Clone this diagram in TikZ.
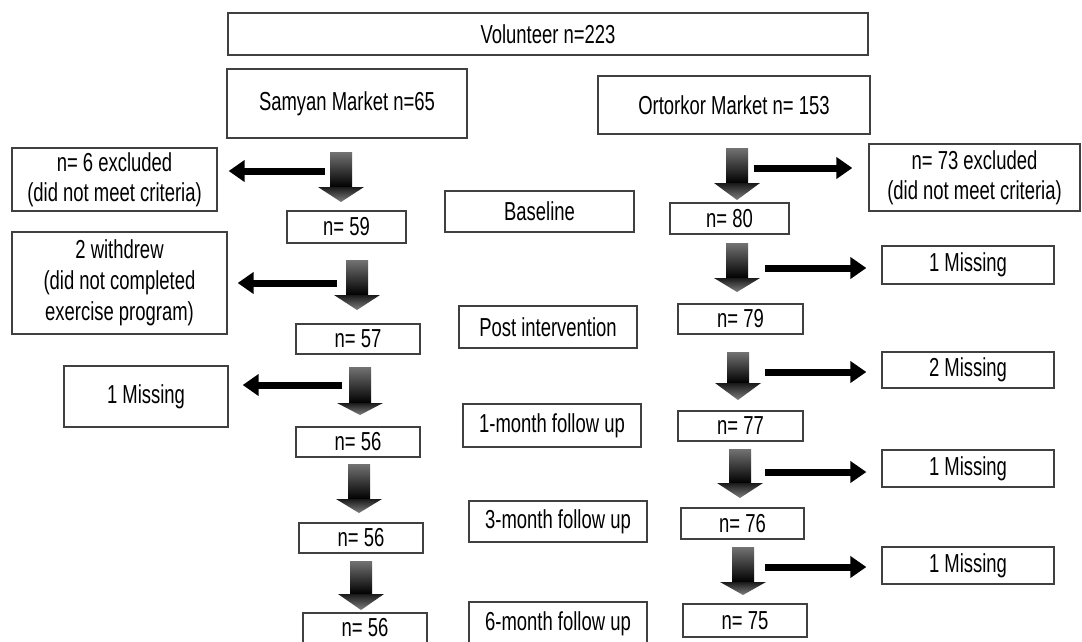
\documentclass[tikz,border=0pt]{standalone}
\usepackage{fontspec}
\setmainfont{Liberation Sans}[FakeStretch=0.71]
\usetikzlibrary{arrows.meta}

\tikzset{
  box/.style={draw=black!75, line width=1.3pt, inner sep=0pt,
    font=\fontsize{26}{31}\selectfont},
  side/.style={line width=7pt, -{Triangle[length=16pt, width=21pt]}},
}

% shaded down arrow: x centre, top, start of head, tip
\newcommand{\flowarrow}[4]{%
  \shade[top color=black!55, bottom color=black] (#1-11,#2) rectangle (#1+11,#3);
  \shade[top color=black!90, bottom color=black!50] (#1-23,#3) -- (#1+23,#3) -- (#1,#4) -- cycle;
}

\begin{document}
\begin{tikzpicture}[x=1pt, y=-1pt]
    \clip (0,0) rectangle (1082,641);
    \fill[white] (0,0) rectangle (1082,641);

    \node[box, minimum width=640pt, minimum height=42pt] (vol) at (548,34) {Volunteer n=223};
    \node[box, minimum width=240pt, minimum height=69pt] (sam) at (347,103.5) {Samyan Market n=65};
    \node[box, minimum width=272pt, minimum height=58pt] (ort) at (734,105) {Ortorkor Market n= 153};

    % middle column
    \node[box, minimum width=189pt, minimum height=41pt] (base) at (539.5,211.5) {Baseline};
    \node[box, minimum width=178pt, minimum height=42pt] (post) at (548,327) {Post intervention};
    \node[box, minimum width=178pt, minimum height=43pt] (m1) at (552,425.5) {1-month follow up};
    \node[box, minimum width=178pt, minimum height=41pt] (m3) at (558,521.5) {3-month follow up};
    \node[box, minimum width=178pt, minimum height=43pt] (m6) at (558,623.5) {6-month follow up};

    % Samyan
    \node[box, align=center, minimum width=205pt, minimum height=63pt] (sex) at (114.5,179.5) {n= 6 excluded\\[-1pt](did not meet criteria)};
    \node[box, align=center, minimum width=215pt, minimum height=102pt] (swd) at (119.5,283) {2 withdrew\\(did not completed\\exercise program)};
    \node[box, minimum width=164pt, minimum height=61pt] (smis) at (146,396.5) {1 Missing};
    \node[box, minimum width=119pt, minimum height=32pt] (s59) at (346.5,227) {n= 59};
    \node[box, minimum width=124pt, minimum height=30pt] (s57) at (358,339) {n= 57};
    \node[box, minimum width=124pt, minimum height=30pt] (s56a) at (358,442) {n= 56};
    \node[box, minimum width=124pt, minimum height=30pt] (s56b) at (361,538) {n= 56};
    \node[box, minimum width=124pt, minimum height=30pt] (s56c) at (365,628) {n= 56};

    % Ortorkor
    \node[box, align=center, minimum width=211pt, minimum height=67pt] (oex) at (974.5,177.5) {n= 73 excluded\\[-1pt](did not meet criteria)};
    \node[box, minimum width=172pt, minimum height=38pt] (omis1) at (968,265) {1 Missing};
    \node[box, minimum width=172pt, minimum height=36pt] (omis2) at (968,370) {2 Missing};
    \node[box, minimum width=172pt, minimum height=37pt] (omis3) at (968,468.5) {1 Missing};
    \node[box, minimum width=172pt, minimum height=37pt] (omis4) at (968,565.5) {1 Missing};
    \node[box, minimum width=119pt, minimum height=31pt] (o80) at (729.5,218.5) {n= 80};
    \node[box, minimum width=125pt, minimum height=30pt] (o79) at (740.5,319) {n= 79};
    \node[box, minimum width=125pt, minimum height=30pt] (o77) at (740.5,426) {n= 77};
    \node[box, minimum width=123pt, minimum height=31pt] (o76) at (742.5,523.5) {n= 76};
    \node[box, minimum width=124pt, minimum height=33pt] (o75) at (745,620.5) {n= 75};

    \foreach \x/\yt/\yh/\yp in {341/152/187/202, 357/260/295/310, 360/367/403/415,
        359/464/499/513, 361/561/594/610, 737/148/183/200, 737/243/278/292,
        738/352/383/400, 740/449/483/498, 743/547/582/595}{
      \flowarrow{\x}{\yt}{\yh}{\yp}
    }

    \coordinate (sa1) at (325,171);
    \coordinate (sa2) at (337,283);
    \coordinate (sa3) at (342,385);
    \draw[side, shorten >=11pt] (sa1) -- (sex.east |- sa1);
    \draw[side, shorten >=10pt] (sa2) -- (swd.east |- sa2);
    \draw[side, shorten >=14pt] (sa3) -- (smis.east |- sa3);

    \coordinate (oa1) at (754,168);
    \coordinate (oa2) at (765,268);
    \coordinate (oa3) at (765,372);
    \coordinate (oa4) at (765,472);
    \coordinate (oa5) at (765,567);
    \draw[side, shorten >=16pt] (oa1) -- (oex.west |- oa1);
    \draw[side, shorten >=15pt] (oa2) -- (omis1.west |- oa2);
    \draw[side, shorten >=15pt] (oa3) -- (omis2.west |- oa3);
    \draw[side, shorten >=15pt] (oa4) -- (omis3.west |- oa4);
    \draw[side, shorten >=15pt] (oa5) -- (omis4.west |- oa5);
  \end{tikzpicture}
\end{document}
